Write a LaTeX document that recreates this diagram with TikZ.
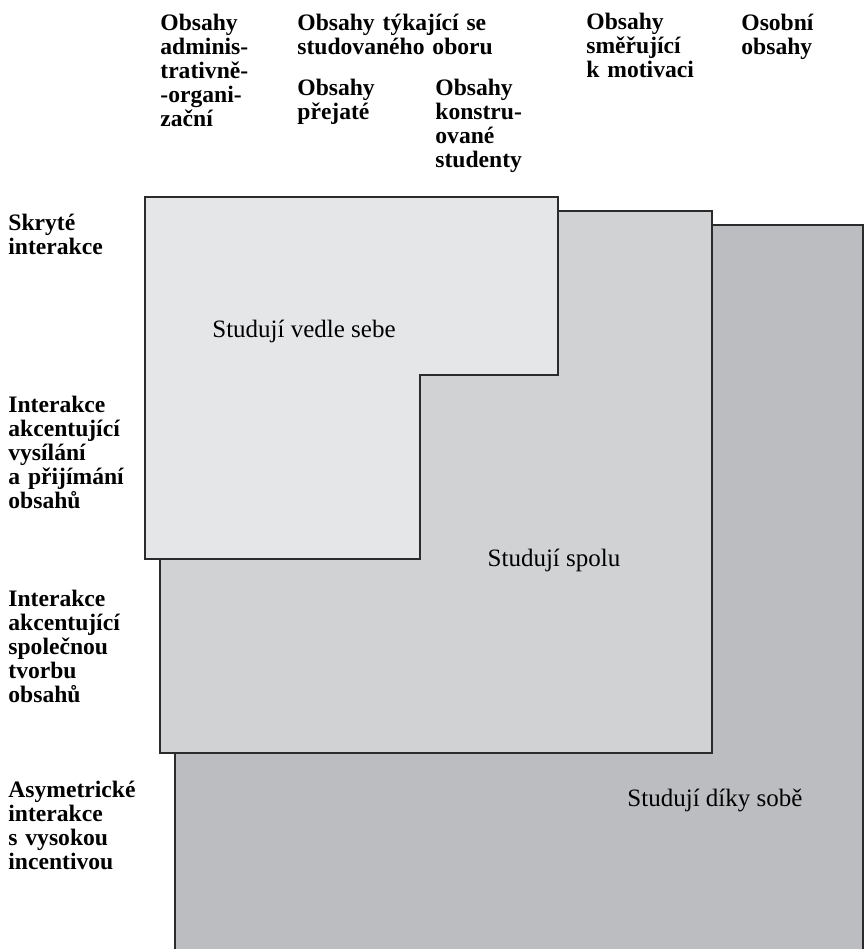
\documentclass[tikz,border=0pt]{standalone}
\usepackage{fontspec}
\setmainfont{Liberation Serif}
\usepackage{xcolor}
\definecolor{boxlight}{HTML}{E5E6E8}
\definecolor{boxmid}{HTML}{D1D2D4}
\definecolor{boxdark}{HTML}{BCBDC1}
\definecolor{edge}{HTML}{2B2B2B}

\begin{document}
\begin{tikzpicture}[x=0.5pt,y=-0.5pt,
 head/.style={anchor=base west,inner sep=0pt,text width=#1,align=left,font=\bfseries\fontsize{11.8}{12}\selectfont},
 head/.default=60pt,
 field/.style={fill=#1,draw=edge,line width=0.7pt,line join=miter},
 say/.style={anchor=base,inner sep=0pt,font=\fontsize{12.5}{14}\selectfont}]
\useasboundingbox (0,0) rectangle (865,949);
\clip (0,0) rectangle (865,949);
\draw[field=boxdark](175,225) rectangle (863,960);
\draw[field=boxmid](160,211) rectangle (712,753);
\draw[field=boxlight](145,197) -| (558,375) -| (420,559) -- (145,559) -- cycle;
\node[say] (tvedle) at (304,337) {Studují vedle sebe};
\node[say] (tspolu) at (554,566) {Studují spolu};
\node[say] (tdiky) at (715,806) {Studují díky sobě};
\node[head] (hadm) at (160,30) {Obsahy\\adminis-\\trativně-\\-organi-\\zační};
\node[head=110pt] (hobor) at (297,30) {Obsahy týkající se\\studovaného oboru};
\node[head] (hprej) at (297,95) {Obsahy\\přejaté};
\node[head] (hkons) at (435,95) {Obsahy\\konstru-\\ované\\studenty};
\node[head] (hmot) at (586,29) {Obsahy\\směřující\\k motivaci};
\node[head] (hos) at (741,30) {Osobní\\obsahy};
\node[head=90pt] (rskr) at (8,230) {Skryté\\interakce};
\node[head=90pt] (rvys) at (8,412) {Interakce\\akcentující\\vysílání\\a přijímání\\obsahů};
\node[head=90pt] (rtvo) at (8,606) {Interakce\\akcentující\\společnou\\tvorbu\\obsahů};
\node[head=90pt] (rasy) at (8,797) {Asymetrické\\interakce\\s vysokou\\incentivou};
\end{tikzpicture}
\end{document}
